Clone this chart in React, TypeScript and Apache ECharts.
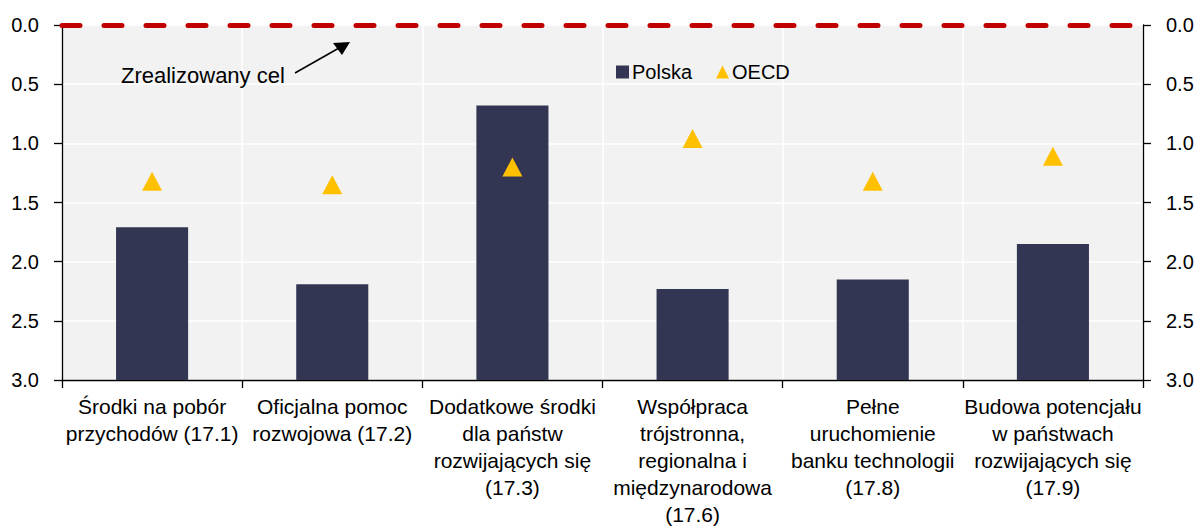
import React, { useEffect, useRef } from "react";
import * as echarts from "echarts";

const CATEGORIES = [
  "Środki na pobór\nprzychodów (17.1)",
  "Oficjalna pomoc\nrozwojowa (17.2)",
  "Dodatkowe środki\ndla państw\nrozwijających się\n(17.3)",
  "Współpraca\ntrójstronna,\nregionalna i\nmiędzynarodowa\n(17.6)",
  "Pełne\nuruchomienie\nbanku technologii\n(17.8)",
  "Budowa potencjału\nw państwach\nrozwijających się\n(17.9)",
];
const POLSKA = [1.71, 2.19, 0.68, 2.23, 2.15, 1.85];
const OECD = [1.32, 1.35, 1.2, 0.96, 1.32, 1.11];
const TARGET = 0;
const Y_MIN = 0;
const Y_MAX = 3;
const Y_INTERVAL = 0.5;
const ANNOTATION = "Zrealizowany cel";

const FONT = "'Liberation Sans', Arial, sans-serif";
const BAR_COLOR = "#333652";
const TRI_COLOR = "#ffc000";
const RED = "#c00000";

export default function App() {
  const ref = useRef<HTMLDivElement>(null);
  useEffect(() => {
    if (!ref.current) return;
    document.body.style.margin = "0";
    document.body.style.overflow = "hidden";
    const chart = echarts.init(ref.current, null, { renderer: "svg" });
    const yAxisBase = (position: "left" | "right") => ({
      type: "value",
      position,
      inverse: true,
      min: Y_MIN,
      max: Y_MAX,
      interval: Y_INTERVAL,
      axisLine: { show: true, lineStyle: { color: "#000", width: 1.3 } },
      axisTick: { show: true, length: 8, lineStyle: { color: "#000", width: 1.3 } },
      axisLabel: {
        color: "#000",
        fontSize: 20,
        fontFamily: FONT,
        margin: 23,
        formatter: (v: number) => v.toFixed(1),
      },
      splitLine: { show: position === "left", lineStyle: { color: "#ffffff", width: 1.5 } },
    });
    chart.setOption({
      animation: false,
      backgroundColor: "#ffffff",
      textStyle: { fontFamily: FONT },
      grid: {
        left: 62,
        right: 57,
        top: 25,
        bottom: 148,
        show: true,
        backgroundColor: "#f2f2f2",
        borderWidth: 0,
      },
      legend: {
        left: 611,
        top: 57,
        itemWidth: 13,
        itemHeight: 13,
        itemGap: 24,
        textStyle: { color: "#000", fontSize: 20, fontFamily: FONT, padding: [0, 0, 0, -2] },
        data: [
          { name: "Polska", icon: "rect", itemStyle: { color: BAR_COLOR } },
          { name: "OECD", icon: "triangle", itemStyle: { color: TRI_COLOR } },
        ],
      },
      xAxis: {
        type: "category",
        data: CATEGORIES,
        axisLine: { show: true, onZero: false, lineStyle: { color: "#000", width: 1.3 } },
        axisTick: { show: true, length: 8, lineStyle: { color: "#000", width: 1.3 } },
        axisLabel: {
          interval: 0,
          color: "#000",
          fontSize: 21,
          lineHeight: 27,
          fontFamily: FONT,
          margin: 13,
          align: "center",
        },
        splitLine: { show: true, lineStyle: { color: "#ffffff", width: 1.5 } },
      },
      yAxis: [yAxisBase("left"), yAxisBase("right")],
      series: [
        {
          name: "Polska",
          type: "custom",
          z: 2,
          data: POLSKA.map((v, i) => [i, v]),
          encode: { x: 0, y: 1 },
          renderItem: (params: any, api: any) => {
            const idx = api.value(0);
            const v = api.value(1);
            const top = api.coord([idx, v]);
            const bottom = api.coord([idx, Y_MAX]);
            const w = api.size([1, 0])[0] * 0.4;
            return {
              type: "rect",
              shape: { x: top[0] - w / 2, y: top[1], width: w, height: bottom[1] - top[1] },
              style: { fill: BAR_COLOR },
            };
          },
          itemStyle: { color: BAR_COLOR },
        },
        {
          name: "OECD",
          type: "scatter",
          z: 3,
          symbol: "triangle",
          symbolSize: [20, 19],
          itemStyle: { color: TRI_COLOR, opacity: 1 },
          data: OECD,
          markLine: {
            silent: true,
            symbol: ["none", "none"],
            label: { show: false },
            lineStyle: { color: RED, width: 5, type: [18, 24], cap: "round" },
            data: [{ yAxis: TARGET }],
          },
        },
      ],
      graphic: [
        {
          type: "text",
          left: 121,
          top: 64,
          z: 10,
          style: { text: ANNOTATION, fontSize: 22, fontFamily: FONT, fill: "#000" },
        },
        {
          type: "line",
          z: 10,
          shape: { x1: 295, y1: 73, x2: 339, y2: 48 },
          style: { stroke: "#000", lineWidth: 1.5 },
        },
        {
          type: "polygon",
          z: 10,
          shape: { points: [[350, 42], [333, 43], [342, 55]] },
          style: { fill: "#000" },
        },
      ],
    });
    return () => chart.dispose();
  }, []);
  return (
    <div style={{ position: "absolute", left: 0, top: 0, width: 1200, height: 528, overflow: "hidden" }}>
      <div ref={ref} style={{ width: 1200, height: 528 }} />
    </div>
  );
}
